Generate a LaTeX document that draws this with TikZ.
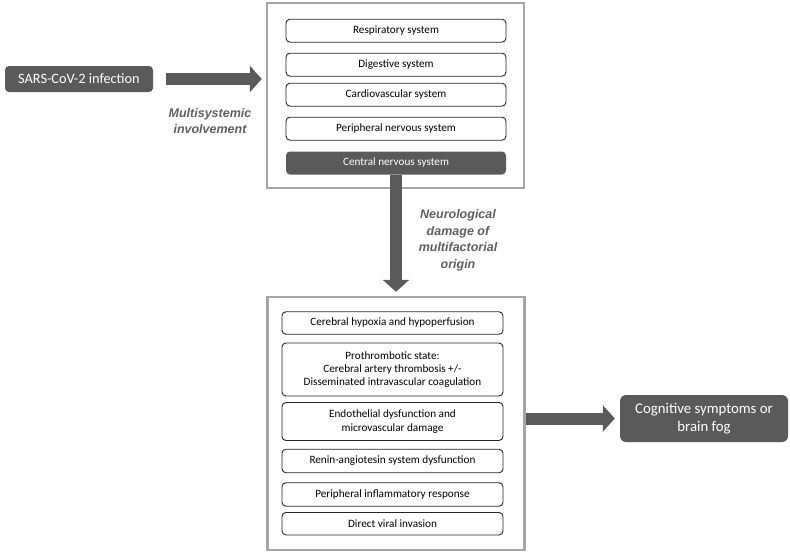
\documentclass[tikz,border=0pt]{standalone}
\usepackage{fontspec}
\setmainfont{Carlito}
\newfontfamily\lblfont{Liberation Sans}
\usetikzlibrary{arrows.meta}
\definecolor{darkbox}{HTML}{5A5A5A}
\definecolor{framegray}{HTML}{A6A6A6}
\definecolor{lblgray}{HTML}{5F5F5F}
\tikzset{
  frame/.style={draw=framegray, line width=2.5pt, fill=white, inner sep=0pt},
  item/.style={draw=black!85, line width=0.9pt, rounded corners=4pt, fill=white, minimum width=220pt, align=center, font=\fontsize{11.2}{13.3}\selectfont, inner sep=0pt},
  darkitem/.style={fill=darkbox, rounded corners=4pt, text=white, align=center, inner sep=0pt},
  bigarrow/.style={draw=darkbox, line width=12pt, -{Triangle[length=12pt,width=26pt]}},
  lbl/.style={font=\lblfont\bfseries\itshape\fontsize{12.5}{16.5}\selectfont, text=lblgray, align=center}
}
\begin{document}
\begin{tikzpicture}[x=1pt,y=-1pt]
\useasboundingbox (0,0) rectangle (790,552);
% left
\node[darkitem, minimum width=148pt, minimum height=26pt, font=\fontsize{14.3}{17}\selectfont] (sars) at (79,79) {SARS-CoV-2 infection};
% top frame
\node[frame, minimum width=257pt, minimum height=185pt] (topbox) at (395.5,95.5) {};
\node[item, minimum height=23pt] (resp) at (396,30.7) {Respiratory system};
\node[item, minimum height=23pt] (dig) at (396,64.7) {Digestive system};
\node[item, minimum height=23pt] (card) at (396,94.7) {Cardiovascular system};
\node[item, minimum height=23pt] (pns) at (396,128.7) {Peripheral nervous system};
\node[darkitem, minimum width=220pt, minimum height=23pt, font=\fontsize{11.2}{13.3}\selectfont] (cns) at (396,163) {Central nervous system};
% bottom frame
\node[frame, minimum width=257pt, minimum height=253pt] (botbox) at (396,423.5) {};
\node[item, minimum width=221pt, minimum height=22.5pt] (hyp) at (392.5,323) {Cerebral hypoxia and hypoperfusion};
\node[item, minimum width=221pt, minimum height=53pt] (proth) at (392.5,369.5) {Prothrombotic state:\\Cerebral artery thrombosis +/-\\Disseminated intravascular coagulation};
\node[item, minimum width=221pt, minimum height=38pt] (endo) at (392.5,421.5) {Endothelial dysfunction and\\microvascular damage};
\node[item, minimum width=221pt, minimum height=23.5pt] (renin) at (392.5,461) {Renin-angiotesin system dysfunction};
\node[item, minimum width=221pt, minimum height=23.5pt] (infl) at (392.5,494.5) {Peripheral inflammatory response};
\node[item, minimum width=221pt, minimum height=22.5pt] (viral) at (392.5,523.7) {Direct viral invasion};
% right
\node[darkitem, minimum width=168pt, minimum height=47pt, rounded corners=6pt, font=\fontsize{14.8}{17.5}\selectfont] (cog) at (704,418.5) {Cognitive symptoms or\\brain fog};
% arrows
\draw[bigarrow, shorten <=13pt, shorten >=4pt] (sars.east) -- (sars.east -| topbox.west);
\draw[bigarrow, shorten >=4pt] (cns.south) -- (cns.south |- botbox.north);
\draw[bigarrow, shorten >=5pt] (botbox.east |- cog.west) -- (cog.west);
% labels
\node[lbl] (mlabel) at (210,121) {Multisystemic\\involvement};
\node[lbl] (nlabel) at (458,240.5) {Neurological\\damage of\\multifactorial\\origin};
\end{tikzpicture}
\end{document}
